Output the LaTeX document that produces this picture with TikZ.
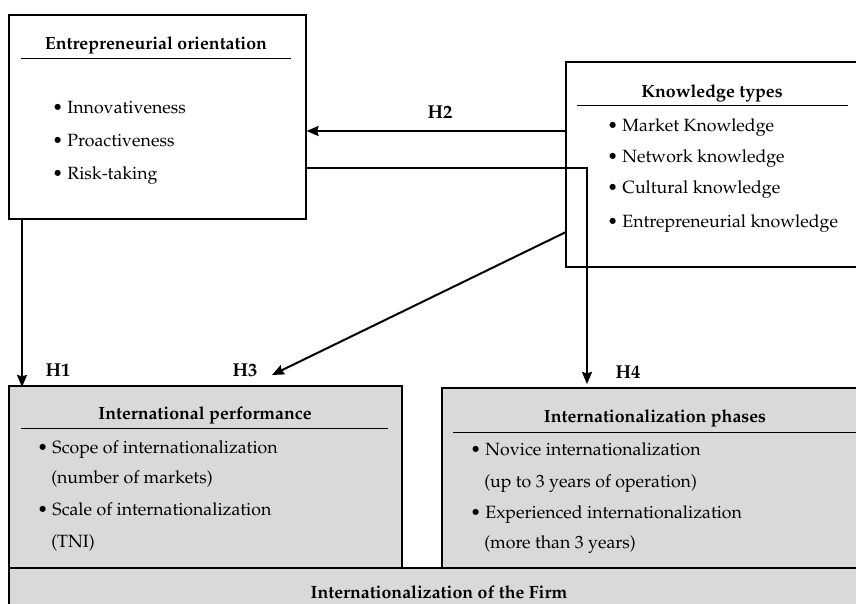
\documentclass[tikz,border=0pt]{standalone}
\usepackage[T1]{fontenc}
\usepackage{mathpazo}
\usetikzlibrary{arrows.meta,positioning,fit}
\definecolor{boxgrey}{HTML}{D9D9D9}

\begin{document}
\begin{tikzpicture}[x=0.75pt,y=-0.75pt,
    box/.style={draw, line width=0.8pt, inner sep=0pt},
    greybox/.style={box, fill=boxgrey},
    head/.style={font=\bfseries\fontsize{13.3}{15}\selectfont},
    item/.style={anchor=base west, font=\fontsize{13.3}{15}\selectfont, inner sep=0pt},
    hyp/.style={font=\bfseries\fontsize{14}{16}\selectfont},
    link/.style={line width=1.5pt, -{Stealth[length=9pt,width=7.5pt,inset=1pt]}}]
\useasboundingbox (0,0) rectangle (856,603);

% boxes
\node[box, fit={(9,15) (306,219)}] (eo) {};
\node[box, fit={(566,62) (870,267)}] (kt) {};
\node[greybox, fit={(9,386) (402,568)}] (ip) {};
\node[greybox, fit={(442,388) (870,568)}] (ph) {};
\node[greybox, fit={(9,568) (870,620)}] (firm) {};

% titles
\node[head] (eotitle) at (156,45) {Entrepreneurial orientation};
\draw (21,58) -- (291,58);
\node[head] (kttitle) at (712,93) {Knowledge types};
\draw (577,105) -- (848,105);
\node[head] (iptitle) at (205,415) {International performance};
\draw (21,428) -- (388,428);
\node[head] (phtitle) at (655,418) {Internationalization phases};
\draw (453,432) -- (870,432);
\node[head] (firmtitle) at (439,592) {Internationalization of the Firm};

% lists
\node[item] (eo1) at (52,113) {\textbullet\ Innovativeness};
\node[item] (eo2) at (52,146) {\textbullet\ Proactiveness};
\node[item] (eo3) at (52,179) {\textbullet\ Risk-taking};

\node[item] (kt1) at (607,131) {\textbullet\ Market Knowledge};
\node[item] (kt2) at (607,162) {\textbullet\ Network knowledge};
\node[item] (kt3) at (607,193) {\textbullet\ Cultural knowledge};
\node[item] (kt4) at (607,227) {\textbullet\ Entrepreneurial knowledge};

\node[item] (ip1) at (37,453) {\textbullet\ Scope of internationalization};
\node[item] (ip2) at (51,483) {(number of markets)};
\node[item] (ip3) at (37,515) {\textbullet\ Scale of internationalization};
\node[item] (ip4) at (51,547) {(TNI)};

\node[item] (ph1) at (470,455) {\textbullet\ Novice internationalization};
\node[item] (ph2) at (484,487) {(up to 3 years of operation)};
\node[item] (ph3) at (470,518) {\textbullet\ Experienced internationalization};
\node[item] (ph4) at (484,548) {(more than 3 years)};

% hypotheses
\coordinate (h2start) at (566,131);
\coordinate (h1end) at (22,387);
\coordinate (h3start) at (566,232);
\coordinate (h3end) at (272,375);
\coordinate (h4bend) at (587,168);
\coordinate (h4end) at (587,384);

\draw[link] (h2start) -- (eo.east |- h2start);
\draw[link] (eo.south -| h1end) -- (h1end);
\draw[link] (h3start) -- (h3end);
\draw[link] (eo.east |- h4bend) -- (h4bend) -- (h4end);

\node[hyp] (h1) at (58,370) {H1};
\node[hyp] (h2) at (440,112) {H2};
\node[hyp] (h3) at (245,370) {H3};
\node[hyp] (h4) at (628,372) {H4};
\end{tikzpicture}
\end{document}
